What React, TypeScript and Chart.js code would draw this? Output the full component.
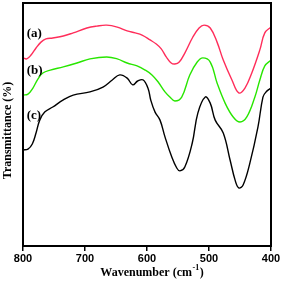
import React, { useEffect, useRef } from "react";
import { Chart, registerables } from "chart.js";

Chart.register(...registerables);

// Series (a) – red
const wavenumbersA = [800,794,787,779,771,763,752,735,719,697,681,665,648,632,619,608,595,585,577,569,561,555,548,539,526,516,508,498,487,477,463,452,442,431,418,410,400];
const transmittanceA = [77.4,77.0,78.6,81.5,83.9,85.2,85.6,86.4,87.7,89.7,90.5,90.9,90.1,88.5,87.7,86.8,84.8,83.1,81.1,77.8,75.3,74.9,75.7,79.4,86.0,89.7,90.9,89.7,83.9,76.5,68.3,63.0,65.0,71.2,80.7,87.7,90.1];

// Series (b) – green
const wavenumbersB = [800,792,784,776,768,756,735,713,692,665,648,632,616,603,592,582,571,563,555,544,531,519,510,498,487,474,461,450,439,426,418,410,400];
const transmittanceB = [62.1,62.5,65.0,68.7,71.2,72.4,73.7,75.3,77.0,77.8,77.0,75.3,74.1,72.4,70.4,67.5,63.4,61.3,59.7,61.3,70.4,75.7,77.4,75.7,67.1,58.8,53.1,51.0,53.1,61.3,68.3,74.1,76.5];

// Series (c) – black
const wavenumbersC = [800,792,785,779,773,765,752,735,719,692,671,656,644,632,623,615,606,598,594,587,579,571,560,552,547,539,527,518,506,498,490,477,466,458,452,445,434,421,413,408,400];
const transmittanceC = [39.5,39.9,42.0,46.5,51.8,55.1,57.2,60.1,62.1,63.4,65.4,68.3,70.4,69.1,66.3,67.9,68.3,64.6,60.1,55.1,51.8,44.9,36.6,32.1,30.9,32.5,42.4,54.7,61.3,58.8,51.8,46.5,35.4,27.2,23.9,25.1,34.2,49.0,61.3,63.4,65.0];

const xTicks = [800, 700, 600, 500, 400];
const seriesLabels = ["(a)", "(b)", "(c)"];
const labelWavenumber = 794;
const labelTransmittance = [87.2, 72.0, 53.5];
const yTitle = "Transmittance (%)";
const xTitleMain = "Wavenumber (cm";
const xTitleSup = "-1";
const xTitleEnd = ")";

const SERIF = '"Liberation Serif", "Times New Roman", serif';

const toPoints = (xs: number[], ys: number[]) => xs.map((x, i) => ({ x, y: ys[i] }));

const overlay = {
  id: "overlay",
  afterDraw(chart: any) {
    const { ctx, chartArea: ca, scales } = chart;
    ctx.save();
    ctx.strokeStyle = "#000";
    ctx.lineWidth = 2;
    ctx.strokeRect(ca.left, ca.top, ca.right - ca.left, ca.bottom - ca.top);

    ctx.fillStyle = "#000";
    ctx.font = `bold 13px ${SERIF}`;
    ctx.textBaseline = "middle";
    ctx.textAlign = "left";
    seriesLabels.forEach((t, i) => {
      ctx.fillText(t, scales.x.getPixelForValue(labelWavenumber), scales.y.getPixelForValue(labelTransmittance[i]));
    });

    // y title
    ctx.font = `bold 12px ${SERIF}`;
    ctx.save();
    ctx.translate(8, (ca.top + ca.bottom) / 2 + 6);
    ctx.rotate(-Math.PI / 2);
    ctx.textAlign = "center";
    ctx.fillText(yTitle, 0, 0);
    ctx.restore();

    // x title with superscript
    ctx.font = `bold 12px ${SERIF}`;
    const w1 = ctx.measureText(xTitleMain).width;
    const w3 = ctx.measureText(xTitleEnd).width;
    ctx.font = `bold 8px ${SERIF}`;
    const w2 = ctx.measureText(xTitleSup).width + 1;
    const total = w1 + w2 + w3;
    const cx = (ca.left + ca.right) / 2 + 5;
    const ty = ca.bottom + 27;
    const x0 = cx - total / 2;
    ctx.textAlign = "left";
    ctx.font = `bold 12px ${SERIF}`;
    ctx.fillText(xTitleMain, x0, ty);
    ctx.font = `bold 8px ${SERIF}`;
    ctx.fillText(xTitleSup, x0 + w1 + 0.5, ty - 5);
    ctx.font = `bold 12px ${SERIF}`;
    ctx.fillText(xTitleEnd, x0 + w1 + w2, ty);
    ctx.restore();
  },
};

export default function App() {
  const ref = useRef<HTMLCanvasElement>(null);
  useEffect(() => {
    document.body.style.margin = "0";
    const chart = new Chart(ref.current!, {
      type: "line",
      data: {
        datasets: [
          { label: "(a)", data: toPoints(wavenumbersA, transmittanceA), borderColor: "rgb(255,45,90)", borderWidth: 1.4, pointRadius: 0, tension: 0.4, fill: false },
          { label: "(b)", data: toPoints(wavenumbersB, transmittanceB), borderColor: "rgb(40,230,0)", borderWidth: 1.4, pointRadius: 0, tension: 0.4, fill: false },
          { label: "(c)", data: toPoints(wavenumbersC, transmittanceC), borderColor: "#000", borderWidth: 1.4, pointRadius: 0, tension: 0.4, fill: false },
        ],
      },
      options: {
        animation: false,
        responsive: false,
        devicePixelRatio: 1,
        layout: { padding: { left: 23, top: 3, right: 11, bottom: 0 } },
        plugins: { legend: { display: false }, tooltip: { enabled: false } },
        scales: {
          x: {
            type: "linear",
            min: 400,
            max: 800,
            reverse: true,
            afterBuildTicks: (axis: any) => {
              axis.ticks = xTicks.map((v) => ({ value: v }));
            },
            afterFit: (axis: any) => {
              axis.height = 40;
            },
            grid: { display: true, drawOnChartArea: false, drawTicks: true, tickLength: 5, color: "#000", lineWidth: 1.5 },
            border: { display: false },
            ticks: {
              color: "#000",
              padding: 1,
              maxRotation: 0,
              autoSkip: false,
              font: { family: '"Liberation Sans", Arial, sans-serif', size: 11, weight: "bold" },
            },
          },
          y: {
            display: false,
            min: 0,
            max: 100,
          },
        },
      },
      plugins: [overlay],
    });
    return () => chart.destroy();
  }, []);
  return (
    <div style={{ width: 282, height: 286 }}>
      <canvas ref={ref} width={282} height={286} />
    </div>
  );
}
